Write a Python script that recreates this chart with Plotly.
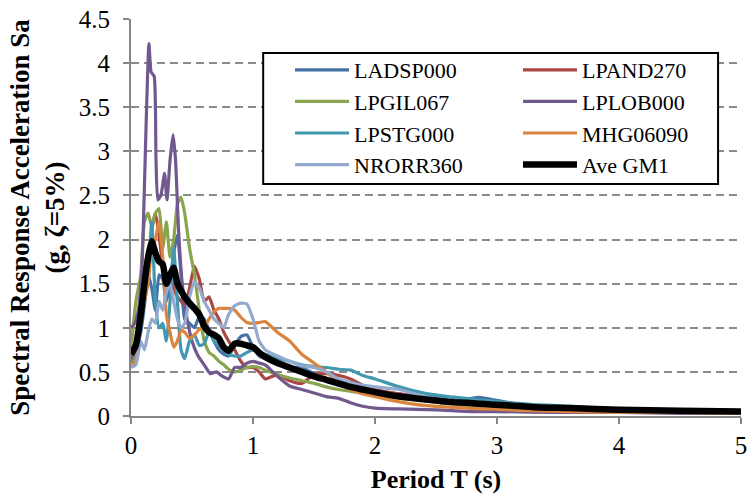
import plotly.graph_objects as go

# Common period grid (s)
T = [0, 0.04, 0.08, 0.11, 0.14, 0.17, 0.2, 0.23, 0.26, 0.29,
     0.32, 0.35, 0.38, 0.41, 0.44, 0.48, 0.52, 0.56, 0.6, 0.64,
     0.68, 0.72, 0.76, 0.8, 0.85, 0.9, 0.95, 1.0, 1.05, 1.1,
     1.2, 1.3, 1.4, 1.5, 1.6, 1.7, 1.8, 1.9, 2.0, 2.2,
     2.4, 2.6, 2.75, 2.85, 2.95, 3.1, 3.3, 3.6, 4.0, 4.5,
     5.0]

sa_ladsp000 = [0.65, 0.75, 0.95, 1.25, 1.6, 1.45, 1.2, 1.6, 1.55, 1.3,
               1.5, 1.85, 2.05, 1.6, 1.1, 1.05, 1.0, 1.13, 1.1, 0.97,
               0.85, 0.75, 0.7, 0.68, 0.8, 0.9, 0.92, 0.78, 0.68, 0.65,
               0.6, 0.55, 0.55, 0.48, 0.4, 0.35, 0.33, 0.3, 0.28, 0.25,
               0.22, 0.2, 0.19, 0.21, 0.19, 0.15, 0.12, 0.1, 0.07, 0.06,
               0.05]

sa_lpand270 = [0.62, 0.7, 1.1, 1.7, 1.55, 2.1, 2.3, 2.05, 1.7, 1.5,
               1.6, 1.45, 1.35, 1.3, 1.25, 1.45, 1.7, 1.55, 1.3, 1.35,
               1.2, 1.1, 0.95, 0.85, 0.75, 0.62, 0.55, 0.55, 0.5, 0.42,
               0.47, 0.4, 0.37, 0.47, 0.48, 0.46, 0.42, 0.35, 0.3, 0.25,
               0.2, 0.17, 0.15, 0.14, 0.13, 0.12, 0.1, 0.09, 0.07, 0.06,
               0.06]

sa_lpgil067 = [0.75, 1.3, 1.6, 2.2, 2.3, 2.15, 2.3, 2.35, 1.9, 2.2,
               1.8, 2.0, 2.4, 2.48, 2.3, 1.9, 1.6, 1.2, 0.85, 0.72,
               0.68, 0.62, 0.58, 0.53, 0.5, 0.52, 0.55, 0.56, 0.55, 0.52,
               0.47, 0.43, 0.4, 0.37, 0.33, 0.3, 0.28, 0.26, 0.24, 0.2,
               0.17, 0.14, 0.12, 0.11, 0.1, 0.09, 0.08, 0.07, 0.06, 0.05,
               0.05]

sa_lpstg000 = [0.6, 0.68, 1.1, 1.5, 1.65, 2.2, 1.3, 1.0, 1.05, 0.85,
               1.3, 1.9, 1.3, 0.75, 0.65, 0.85, 0.92, 0.8, 0.82, 0.95,
               0.85, 0.8, 0.75, 0.7, 0.68, 0.68, 0.72, 0.75, 0.72, 0.7,
               0.65, 0.62, 0.58, 0.56, 0.55, 0.53, 0.52, 0.46, 0.42, 0.33,
               0.26, 0.22, 0.2, 0.18, 0.17, 0.15, 0.13, 0.11, 0.08, 0.07,
               0.06]

sa_mhg06090 = [0.55, 0.65, 1.1, 1.3, 1.5, 1.9, 2.0, 2.2, 1.8, 1.15,
               0.95, 0.78, 0.85, 0.97, 0.95, 0.88, 0.92, 0.98, 1.0, 1.1,
               1.18, 1.22, 1.22, 1.22, 1.2, 1.12, 1.06, 1.05, 1.06, 1.07,
               0.95, 0.85, 0.7, 0.6, 0.5, 0.38, 0.3, 0.25, 0.22, 0.16,
               0.12, 0.1, 0.09, 0.08, 0.08, 0.07, 0.06, 0.05, 0.04, 0.04,
               0.03]

sa_nrorr360 = [0.55, 0.58, 0.85, 0.75, 0.95, 1.1, 1.05, 1.3, 1.2, 1.4,
               1.5, 1.3, 1.1, 1.0, 1.05, 1.35, 1.52, 1.45, 1.3, 1.2,
               1.1, 1.05, 1.0, 1.15, 1.25, 1.28, 1.27, 1.1, 0.85, 0.75,
               0.68, 0.62, 0.57, 0.55, 0.5, 0.42, 0.38, 0.35, 0.33, 0.3,
               0.22, 0.18, 0.16, 0.15, 0.14, 0.12, 0.1, 0.09, 0.07, 0.06,
               0.05]

sa_ave_gm1 = [0.7, 0.8, 1.15, 1.5, 1.8, 1.98, 1.85, 1.75, 1.72, 1.5,
              1.6, 1.68, 1.5, 1.42, 1.35, 1.28, 1.22, 1.15, 1.02, 0.95,
              0.92, 0.88, 0.78, 0.74, 0.82, 0.82, 0.8, 0.78, 0.72, 0.67,
              0.6, 0.55, 0.5, 0.45, 0.41, 0.37, 0.33, 0.3, 0.27, 0.22,
              0.19, 0.16, 0.15, 0.14, 0.13, 0.12, 0.1, 0.09, 0.07, 0.06,
              0.05]

# LPLOB000 read on its own finer grid around the main peak
T_lplob000 = [0, 0.03, 0.06, 0.09, 0.11, 0.13, 0.147, 0.165, 0.19, 0.205,
              0.22, 0.245, 0.275, 0.295, 0.32, 0.345, 0.365, 0.39, 0.42, 0.46,
              0.5, 0.55, 0.6, 0.65, 0.7, 0.75, 0.8, 0.85, 0.9, 0.95,
              1.0, 1.05, 1.1, 1.2, 1.3, 1.4, 1.5, 1.6, 1.7, 1.8,
              1.9, 2.0, 2.2, 2.5, 2.8, 3.0, 3.5, 4.0, 4.5, 5.0]
sa_lplob000 = [1.0, 1.05, 1.2, 1.7, 2.6, 3.6, 4.22, 3.9, 3.85, 2.9,
               2.45, 2.5, 2.75, 2.45, 2.9, 3.19, 2.9, 2.1, 1.5, 1.1,
               0.85, 0.68, 0.58, 0.48, 0.5, 0.45, 0.42, 0.55, 0.55, 0.6,
               0.62, 0.6, 0.58, 0.45, 0.34, 0.3, 0.26, 0.22, 0.2, 0.15,
               0.11, 0.09, 0.08, 0.07, 0.05, 0.05, 0.04, 0.04, 0.03, 0.03]

series = [
    ("LADSP000", T, sa_ladsp000, "#4572A7", 3.2, "legend"),
    ("LPAND270", T, sa_lpand270, "#AA4643", 3.2, "legend2"),
    ("LPGIL067", T, sa_lpgil067, "#89A54E", 3.2, "legend"),
    ("LPLOB000", T_lplob000, sa_lplob000, "#71588F", 3.2, "legend2"),
    ("LPSTG000", T, sa_lpstg000, "#4198AF", 3.2, "legend"),
    ("MHG06090", T, sa_mhg06090, "#DB843D", 3.2, "legend2"),
    ("NRORR360", T, sa_nrorr360, "#93A9CF", 3.2, "legend"),
    ("Ave GM1", T, sa_ave_gm1, "#000000", 6.5, "legend2"),
]

fig = go.Figure()
for name, x, y, color, w, leg in series:
    assert len(x) == len(y), name
    fig.add_trace(go.Scatter(
        x=x, y=y, name=name, mode="lines", legend=leg, legendgroup=name,
        line=dict(color=color, width=w, shape="spline", smoothing=0.5),
    ))

font_family = "Liberation Serif"
fig.update_layout(
    width=748, height=499,
    margin=dict(l=131, r=7, t=19, b=83),
    plot_bgcolor="white", paper_bgcolor="white",
    font=dict(family=font_family, color="black", size=22),
    xaxis=dict(
        range=[0, 5], dtick=1, tick0=0, showgrid=False, zeroline=False,
        showline=True, linecolor="#868686", linewidth=2,
        ticks="outside", ticklen=6, tickcolor="#868686", tickwidth=2,
        tickfont=dict(size=25), ticklabelstandoff=0, ticklabeloverflow="allow",
        automargin=False,
        title=dict(text="<b>Period T (s)</b>", font=dict(size=26), standoff=12),
    ),
    yaxis=dict(
        range=[0, 4.5], dtick=0.5, tick0=0, showgrid=True, zeroline=False,
        gridcolor="#8a8a8a", gridwidth=2, griddash="8px,5px",
        showline=True, linecolor="#868686", linewidth=2,
        ticks="outside", ticklen=6, tickcolor="#868686", tickwidth=2,
        tickfont=dict(size=25), ticklabelstandoff=8,
        title=dict(text="<b>Spectral Response Acceleration Sa<br>(g, \u03b6=5%)</b>",
                   font=dict(size=27), standoff=6),
    ),
    legend=dict(x=0.2607, y=0.9244, xanchor="left", yanchor="top",
                bgcolor="rgba(0,0,0,0)", borderwidth=0, tracegroupgap=0,
                font=dict(size=22), itemwidth=54),
    legend2=dict(x=0.6344, y=0.9244, xanchor="left", yanchor="top",
                 bgcolor="rgba(0,0,0,0)", borderwidth=0, tracegroupgap=0,
                 font=dict(size=22), itemwidth=54),
    shapes=[dict(type="rect", xref="paper", yref="paper",
                 x0=0.2167, x1=0.9624, y0=0.5844, y1=0.9144,
                 line=dict(color="black", width=2), fillcolor="white",
                 layer="above")],
)

fig.write_html("out.html")
